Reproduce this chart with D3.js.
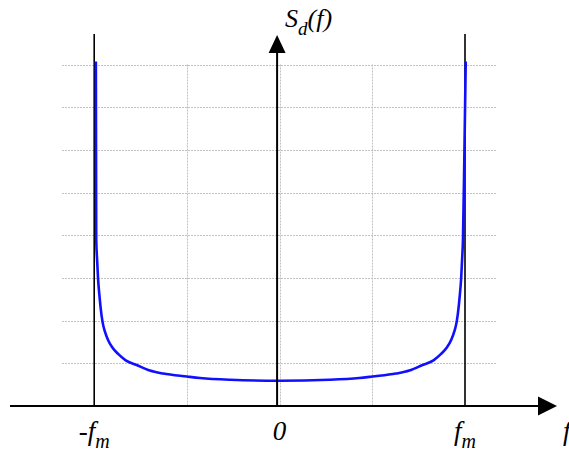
<!DOCTYPE html>
<html>
<head>
<meta charset="utf-8">
<script src="https://cdn.jsdelivr.net/npm/d3@7"></script>
<style>
  html, body { margin: 0; padding: 0; background: #fff; }
  svg { display: block; }
</style>
</head>
<body>
<svg id="chart" width="569" height="453"></svg>
<script>
// Doppler power spectrum S_d(f), normalised frequency f / f_m
const spectrumFreq = [-0.991, -0.990, -0.989, -0.984, -0.979, -0.972, -0.966, -0.955, -0.942, -0.926, -0.902, -0.871, -0.830, -0.771, -0.700, -0.628, -0.500, -0.429, -0.267, 0.000,
                      0.267, 0.429, 0.500, 0.628, 0.700, 0.771, 0.830, 0.871, 0.902, 0.926, 0.942, 0.955, 0.966, 0.972, 0.979, 0.984, 0.989, 0.997, 1.004];
const spectrumLevel = [8.07, 6.00, 3.89, 3.40, 2.97, 2.60, 2.33, 1.97, 1.74, 1.55, 1.37, 1.22, 1.07, 0.960, 0.830, 0.760, 0.690, 0.655, 0.615, 0.593,
                       0.615, 0.655, 0.690, 0.760, 0.830, 0.960, 1.07, 1.22, 1.37, 1.55, 1.74, 1.97, 2.33, 2.60, 2.97, 3.40, 3.89, 6.00, 8.07];

const gridFreqs = [-0.5, 0, 0.5];
const gridLevels = [1, 2, 3, 4, 5, 6, 7, 8];
const edgeFreqs = [-1, 1];
const tickLabels = [
  { f: -1, main: "-f", sub: "m" },
  { f: 0, main: "0", sub: "" },
  { f: 1, main: "f", sub: "m" }
];

const serif = "serif";
const svg = d3.select("#chart");

const x = d3.scaleLinear().domain([-1, 1]).range([94.2, 465]);
const y = d3.scaleLinear().domain([0, 8]).range([406, 64.5]);

// dotted grid
const grid = svg.append("g").attr("stroke", "#c2c2c2").attr("stroke-width", 1).attr("stroke-dasharray", "2,1");
grid.selectAll("line.h").data(gridLevels).join("line")
  .attr("class", "h")
  .attr("x1", 62).attr("x2", 497)
  .attr("y1", d => Math.round(y(d)) + 0.5).attr("y2", d => Math.round(y(d)) + 0.5);
grid.selectAll("line.v").data(gridFreqs).join("line")
  .attr("class", "v")
  .attr("x1", d => Math.round(x(d)) + 0.5).attr("x2", d => Math.round(x(d)) + 0.5)
  .attr("y1", y(8)).attr("y2", y(0));

// band edges at ±f_m
svg.append("g").selectAll("line").data(edgeFreqs).join("line")
  .attr("x1", d => x(d)).attr("x2", d => x(d))
  .attr("y1", 34).attr("y2", y(0))
  .attr("stroke", "#000").attr("stroke-width", 1.6);

// spectrum curve
const line = d3.line()
  .x((d, i) => x(spectrumFreq[i]))
  .y(d => y(d))
  .curve(d3.curveMonotoneX);
svg.append("path")
  .datum(spectrumLevel)
  .attr("d", line)
  .attr("fill", "none")
  .attr("stroke", "#1010ff")
  .attr("stroke-width", 2.6)
  .attr("stroke-linejoin", "round");

// axes with arrowheads
const ax0 = x(0) - 2.5;
svg.append("line")
  .attr("x1", 10).attr("x2", 540)
  .attr("y1", y(0)).attr("y2", y(0))
  .attr("stroke", "#000").attr("stroke-width", 2);
svg.append("path")
  .attr("d", `M557,${y(0)} L538,${y(0) - 9.5} L538,${y(0) + 9.5} Z`)
  .attr("fill", "#000");
svg.append("line")
  .attr("x1", ax0).attr("x2", ax0)
  .attr("y1", y(0)).attr("y2", 50)
  .attr("stroke", "#000").attr("stroke-width", 2);
svg.append("path")
  .attr("d", `M${ax0},35 L${ax0 - 8.5},53 L${ax0 + 8.5},53 Z`)
  .attr("fill", "#000");

// tick labels
const labels = svg.append("g").selectAll("text").data(tickLabels).join("text")
  .attr("x", d => x(d.f))
  .attr("y", 440)
  .attr("text-anchor", "middle")
  .attr("font-family", serif)
  .attr("font-style", "italic")
  .attr("font-size", 27);
labels.append("tspan").text(d => d.main);
labels.filter(d => d.sub).append("tspan")
  .attr("dy", 8).attr("font-size", 20).text(d => d.sub);

// axis titles
const yt = svg.append("text").attr("x", 285).attr("y", 27)
  .attr("font-family", serif).attr("font-style", "italic").attr("font-size", 26);
yt.append("tspan").text("S");
yt.append("tspan").attr("dy", 8).attr("font-size", 19).text("d");
yt.append("tspan").attr("dy", -8).text("(f)");

svg.append("text").attr("x", 563).attr("y", 440)
  .attr("font-family", serif).attr("font-style", "italic").attr("font-size", 27).text("f");
</script>
</body>
</html>
